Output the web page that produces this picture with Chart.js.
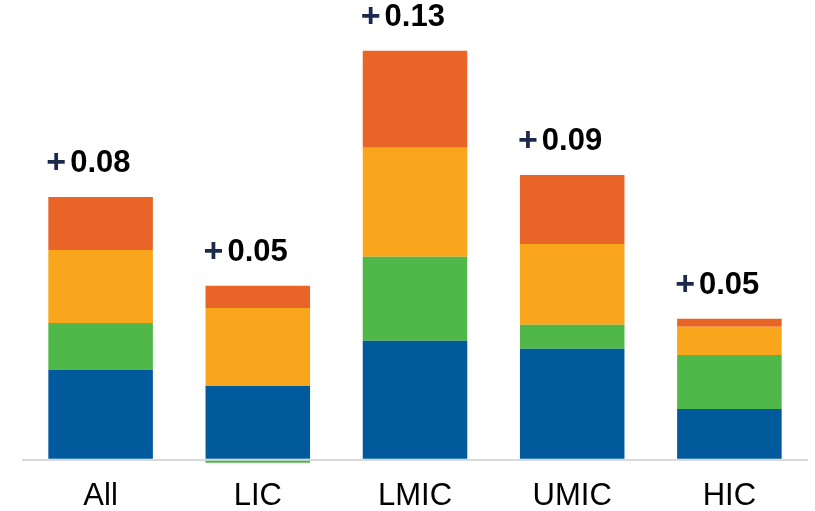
<!DOCTYPE html>
<html>
<head>
<meta charset="utf-8">
<script src="https://cdn.jsdelivr.net/npm/chart.js@4"></script>
<style>
  html, body { margin: 0; padding: 0; background: #fff; }
  #wrap { width: 815px; height: 511px; }
</style>
</head>
<body>
<div id="wrap"><canvas id="chart" width="815" height="511"></canvas></div>
<script>
const categories = ['All', 'LIC', 'LMIC', 'UMIC', 'HIC'];
const blueValues   = [0.0281, 0.0231, 0.0372, 0.0347, 0.0159];
const greenValues  = [0.0147, -0.0009, 0.0263, 0.0075, 0.0169];
const yellowValues = [0.0228, 0.0244, 0.0341, 0.0253, 0.0088];
const orangeValues = [0.0166, 0.0069, 0.0303, 0.0216, 0.0025];
const totalLabels = ['0.08', '0.05', '0.13', '0.09', '0.05'];

const totalsPlugin = {
  id: 'totals',
  afterDatasetsDraw(chart) {
    const ctx = chart.ctx;
    const y = chart.scales.y;
    const meta = chart.getDatasetMeta(0);
    ctx.save();
    ctx.textBaseline = 'alphabetic';
    ctx.textAlign = 'left';
    categories.forEach((c, i) => {
      let top = 0;
      chart.data.datasets.forEach(ds => { if (ds.data[i] > 0) top += ds.data[i]; });
      const bar = meta.data[i];
      const left = bar.x - bar.width / 2 - 2;
      const base = y.getPixelForValue(top) - 25;
      ctx.font = 'bold 34px "Liberation Sans", Arial, sans-serif';
      ctx.fillStyle = '#1b2a4a';
      ctx.fillText('+', left, base + 1);
      const w = ctx.measureText('+').width;
      ctx.font = 'bold 31px "Liberation Sans", Arial, sans-serif';
      ctx.fillStyle = '#000';
      ctx.fillText(totalLabels[i], left + w + 4, base);
    });
    ctx.restore();
  }
};

new Chart(document.getElementById('chart'), {
  type: 'bar',
  data: {
    labels: categories,
    datasets: [
      { data: blueValues, backgroundColor: '#005a9c' },
      { data: greenValues, backgroundColor: '#50b848' },
      { data: yellowValues, backgroundColor: '#f9a61c' },
      { data: orangeValues, backgroundColor: '#e96427' }
    ]
  },
  options: {
    responsive: false,
    animation: false,
    barPercentage: 0.665,
    categoryPercentage: 1,
    layout: { padding: { left: 22, right: 7, top: 0, bottom: 0 } },
    plugins: { legend: { display: false }, tooltip: { enabled: false } },
    scales: {
      x: {
        stacked: true,
        grid: { display: false },
        border: { display: false },
        afterFit: scale => { scale.height = 48; },
        ticks: {
          color: '#000',
          padding: 7,
          font: { family: '"Liberation Sans", Arial, sans-serif', size: 31 }
        }
      },
      y: {
        stacked: true,
        min: -0.001,
        max: 0.1438,
        border: { display: false },
        afterBuildTicks: scale => { scale.ticks = [{ value: 0 }]; },
        ticks: { display: false },
        grid: { color: '#d9d9d9', lineWidth: 2, drawTicks: false }
      }
    }
  },
  plugins: [totalsPlugin]
});
</script>
</body>
</html>
